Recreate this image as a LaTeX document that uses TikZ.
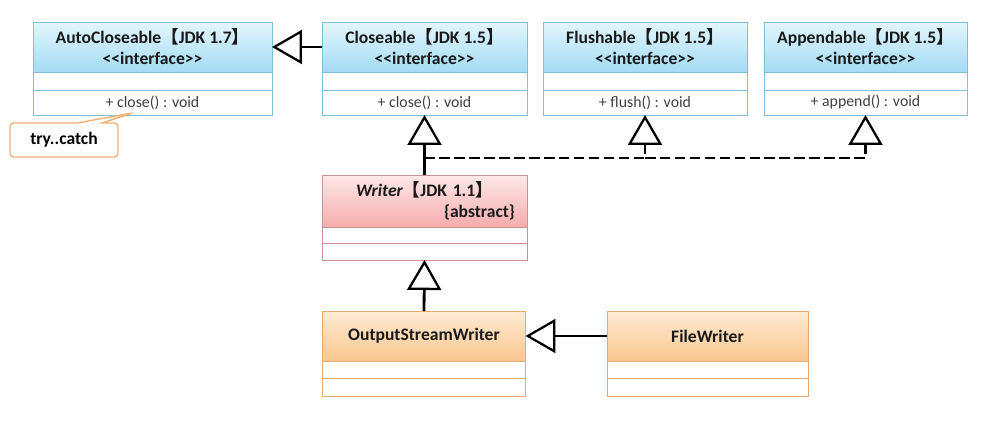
\documentclass[tikz,border=0pt]{standalone}
\usepackage{fontspec}
\setmainfont{Carlito}
\newfontfamily\cjk{Noto Sans CJK SC}
\usetikzlibrary{arrows.meta,positioning,calc,shapes.callouts}

\definecolor{ifTop}{HTML}{E4F6FD}
\definecolor{ifBot}{HTML}{A3DBF4}
\definecolor{ifLine}{HTML}{7FBFD7}
\definecolor{abTop}{HTML}{FDE8E8}
\definecolor{abBot}{HTML}{F6ACAC}
\definecolor{abLine}{HTML}{C99393}
\definecolor{clTop}{HTML}{FEEBD4}
\definecolor{clBot}{HTML}{FAC68F}
\definecolor{clLine}{HTML}{E6A96E}
\definecolor{noteLine}{HTML}{F0B273}
\newcommand{\jdk}[1]{{\cjk 【}JDK #1{\cjk 】}}

\begin{document}
\begin{tikzpicture}[x=0.02cm,y=-0.02cm,every node/.style={inner sep=0pt,outer sep=0pt},
  head/.style={draw=#1Line,top color=#1Top,bottom color=#1Bot,minimum height=1cm,align=center,
    font=\fontsize{10}{12}\selectfont\bfseries,text=black!90},
  part/.style={draw=#1Line,fill=white,font=\fontsize{9}{11}\selectfont,text=black!75},
  inh/.style={line width=1.6pt,-{Triangle[open,length=0.6cm,width=0.68cm,line width=1.3pt]}},
  impl/.style={inh,dash pattern=on 6pt off 2.5pt}]
\useasboundingbox (0,0) rectangle (992,426);
% interfaces
\node[head=if,minimum width=4.78cm] (auto) at (152.5,47) {AutoCloseable\jdk{1.7}\\<{}<interface>{}>};
\node[part=if,minimum width=4.78cm,minimum height=0.36cm,below=0pt of auto] (autoA) {};
\node[part=if,minimum width=4.78cm,minimum height=0.5cm,below=0pt of autoA] (autoM) {+ close() : void};
\node[head=if,minimum width=4.1cm] (close) at (424.5,47) {Closeable\jdk{1.5}\\<{}<interface>{}>};
\node[part=if,minimum width=4.1cm,minimum height=0.36cm,below=0pt of close] (closeA) {};
\node[part=if,minimum width=4.1cm,minimum height=0.5cm,below=0pt of closeA] (closeM) {+ close() : void};
\node[head=if,minimum width=4.08cm] (flush) at (645,47) {Flushable\jdk{1.5}\\<{}<interface>{}>};
\node[part=if,minimum width=4.08cm,minimum height=0.36cm,below=0pt of flush] (flushA) {};
\node[part=if,minimum width=4.08cm,minimum height=0.5cm,below=0pt of flushA] (flushM) {+ flush() : void};
\node[head=if,minimum width=4.06cm] (append) at (865.5,47) {Appendable\jdk{1.5}\\<{}<interface>{}>};
\node[part=if,minimum width=4.06cm,minimum height=0.36cm,below=0pt of append] (appendA) {};
\node[part=if,minimum width=4.06cm,minimum height=0.5cm,below=0pt of appendA] (appendM) {+ append() : void};
% note
\coordinate (tip) at ($(autoM.south)+(-20,-2)$);
\node[rectangle callout,draw=noteLine,thick,fill=white,rounded corners=2pt,minimum width=2.16cm,minimum height=0.68cm,
  callout absolute pointer={(tip)},callout pointer width=0.5cm,font=\fontsize{10}{12}\selectfont\bfseries] (note) at (64,140) {try..catch};
% abstract class
\node[head=ab,minimum width=4.1cm,minimum height=1.04cm,text width=3.62cm] (writer) at (424.5,201)
  {{\itshape Writer}\jdk{1.1}\\\leavevmode\hfill\{abstract\}};
\node[part=ab,minimum width=4.1cm,minimum height=0.32cm,below=0pt of writer] (writerA) {};
\node[part=ab,minimum width=4.1cm,minimum height=0.34cm,below=0pt of writerA] (writerB) {};
% classes
\node[head=cl,minimum width=4.06cm] (osw) at (424,336) {OutputStreamWriter};
\node[part=cl,minimum width=4.06cm,minimum height=0.34cm,below=0pt of osw] (oswA) {};
\node[part=cl,minimum width=4.06cm,minimum height=0.36cm,below=0pt of oswA] (oswB) {};
\node[head=cl,minimum width=4.02cm] (fw) at (707.5,336) {FileWriter};
\node[part=cl,minimum width=4.02cm,minimum height=0.34cm,below=0pt of fw] (fwA) {};
\node[part=cl,minimum width=4.02cm,minimum height=0.36cm,below=0pt of fwA] (fwB) {};
% connectors
\draw[inh] (close.west) -- (auto.east);
\draw[inh] (writer.north) -- (closeM.south);
\coordinate (jn) at ($(writer.north)+(0,-17)$);
\draw[impl] (jn) -| (flushM.south);
\draw[impl] (flushM.south |- jn) -| (appendM.south);
\draw[inh] (osw.north) -- (writerB.south);
\draw[inh] (fw.west) -- (osw.east);
\end{tikzpicture}
\end{document}
